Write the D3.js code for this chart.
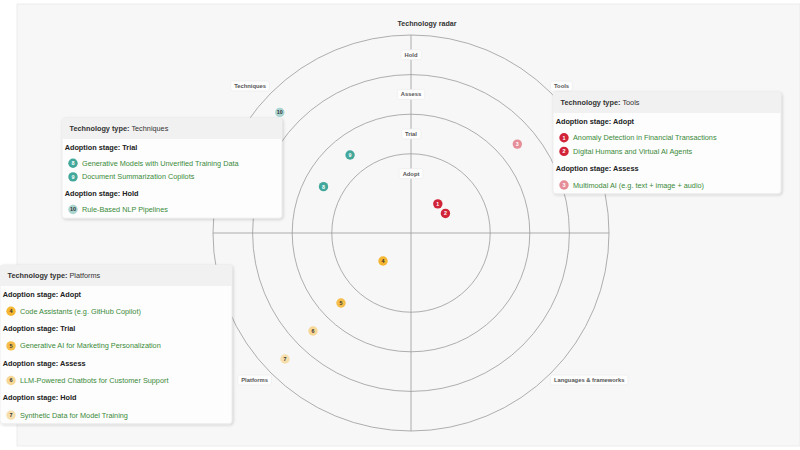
<!DOCTYPE html>
<html>
<head>
<meta charset="utf-8">
<script src="https://cdn.jsdelivr.net/npm/d3@7"></script>
<style>
  body { margin: 0; background: #fff; }
  svg { display: block; font-family: "Liberation Sans", Arial, Helvetica, sans-serif; }
</style>
</head>
<body>
<div id="chart"></div>
<script>
// ---- data ----
var quadrants = ["Tools", "Languages & frameworks", "Platforms", "Techniques"]; // clockwise from top-right
var quadrantColors = ["#d22438", "#7b6fb5", "#f5b632", "#2a9d8f"];
var stages = ["Adopt", "Trial", "Assess", "Hold"];
var stageOpacity = [1, 0.88, 0.5, 0.38];

var techNames = [
  "Anomaly Detection in Financial Transactions",
  "Digital Humans and Virtual AI Agents",
  "Multimodal AI (e.g. text + image + audio)",
  "Code Assistants (e.g. GitHub Copilot)",
  "Generative AI for Marketing Personalization",
  "LLM-Powered Chatbots for Customer Support",
  "Synthetic Data for Model Training",
  "Generative Models with Unverified Training Data",
  "Document Summarization Copilots",
  "Rule-Based NLP Pipelines"
];
var techQuadrant = ["Tools", "Tools", "Tools", "Platforms", "Platforms", "Platforms", "Platforms", "Techniques", "Techniques", "Techniques"];
var techStage = ["Adopt", "Adopt", "Assess", "Adopt", "Trial", "Assess", "Hold", "Trial", "Trial", "Hold"];
var techAngle = [42.6, 60.4, 50.1, 225, 225, 225, 225, 297.9, 322, 312.6]; // degrees, clockwise from north

// ring boundaries and point radius, in radial units
var ringEdges = [2, 3, 4, 5];
var stageMid = [1, 2.5, 3.5, 4.5];

var technologies = techNames.map(function(n, i) {
  return { id: i + 1, name: n, quadrant: techQuadrant[i], stage: techStage[i], angle: techAngle[i] };
});

// ---- layout ----
var W = 800, H = 450;
var cx = 411, cy = 233;

var svg = d3.select("#chart").append("svg").attr("width", W).attr("height", H);

var defs = svg.append("defs");
var shadow = defs.append("filter").attr("id", "shadow").attr("x", "-10%").attr("y", "-10%").attr("width", "130%").attr("height", "130%");
shadow.append("feDropShadow").attr("dx", 1).attr("dy", 1).attr("stdDeviation", 1.5).attr("flood-color", "#000").attr("flood-opacity", 0.18);

// plot background
svg.append("rect").attr("x", 17).attr("y", 4).attr("width", W - 17).attr("height", 442)
  .attr("fill", "#f7f7f7").attr("stroke", "#e9e9e9").attr("stroke-width", 0.8);

svg.append("text").attr("x", cx + 16).attr("y", 25.5).attr("text-anchor", "middle")
  .style("font-size", "7.1px").style("font-weight", "bold").style("fill", "#333")
  .text("Technology radar");

var r = d3.scaleLinear().domain([0, 5]).range([0, 198]);
var a = d3.scaleLinear().domain([0, 360]).range([0, 2 * Math.PI]);

function px(ang, rad) { return cx + r(rad) * Math.sin(a(ang)); }
function py(ang, rad) { return cy - r(rad) * Math.cos(a(ang)); }

var g = svg.append("g");

// rings
g.selectAll(".ring").data(ringEdges).enter().append("circle")
  .attr("cx", cx).attr("cy", cy).attr("r", function(d) { return r(d); })
  .attr("fill", "none").attr("stroke", "#9a9a9a").attr("stroke-width", 0.8);

// axes
g.selectAll(".axisLine").data([0, 90, 180, 270]).enter().append("line")
  .attr("x1", cx).attr("y1", cy)
  .attr("x2", function(d) { return px(d, 5); })
  .attr("y2", function(d) { return py(d, 5); })
  .attr("stroke", "#9a9a9a").attr("stroke-width", 0.8);

function boxedLabel(sel, x, y, txt, anchor) {
  var grp = sel.append("g");
  var t = grp.append("text").attr("x", x).attr("y", y).attr("dy", "0.35em")
    .attr("text-anchor", anchor || "middle")
    .style("font-size", "5.8px").style("font-weight", "bold").style("fill", "#555").text(txt);
  var bb = t.node().getBBox();
  grp.insert("rect", "text").attr("x", bb.x - 3.5).attr("y", bb.y - 2)
    .attr("width", bb.width + 7).attr("height", bb.height + 4).attr("rx", 2)
    .attr("fill", "#fdfdfd").attr("stroke", "#ebebeb").attr("stroke-width", 0.6);
}

// stage labels along the vertical axis
stages.forEach(function(s, i) { boxedLabel(g, cx, py(0, ringEdges[i] - 0.5), s); });

// quadrant labels
var qPos = [[554, 86, "start"], [554, 380, "start"], [268, 380, "end"], [266, 86, "end"]];
quadrants.forEach(function(q, i) { boxedLabel(g, qPos[i][0], qPos[i][1], q, qPos[i][2]); });

function pointColor(d) {
  var qi = quadrants.indexOf(d.quadrant), si = stages.indexOf(d.stage);
  var c = d3.rgb(quadrantColors[qi]), bg = d3.rgb("#f8f8f8"), o = stageOpacity[si];
  return d3.rgb(c.r * o + bg.r * (1 - o), c.g * o + bg.g * (1 - o), c.b * o + bg.b * (1 - o));
}
function textColor(d) {
  var c = pointColor(d);
  var lum = (0.2126 * c.r + 0.7152 * c.g + 0.0722 * c.b) / 255;
  return lum > 0.66 ? "#333" : "#fff";
}

// points
var pts = g.selectAll(".tech").data(technologies).enter().append("g")
  .attr("transform", function(d) {
    var ri = stageMid[stages.indexOf(d.stage)];
    return "translate(" + px(d.angle, ri) + "," + py(d.angle, ri) + ")";
  });
pts.append("circle").attr("r", 4.7).attr("fill", function(d) { return pointColor(d).formatHex(); });
pts.append("text").attr("text-anchor", "middle").attr("dy", "0.35em")
  .style("font-size", "5.3px").style("font-weight", "bold")
  .style("fill", textColor).text(function(d) { return d.id; });

// ---- tooltips ----
var tipBoxes = [
  { quadrant: "Techniques", x: 62, y: 118, w: 220, gap: 16.3 },
  { quadrant: "Tools", x: 553, y: 92, w: 228, gap: 16.8 },
  { quadrant: "Platforms", x: 0, y: 265, w: 232, gap: 17.3 }
];

tipBoxes.forEach(function(b) {
  var tg = svg.append("g").attr("transform", "translate(" + b.x + "," + b.y + ")");
  var bgRect = tg.append("rect").attr("width", b.w).attr("rx", 3)
    .attr("fill", "#fdfdfd").attr("stroke", "#e4e4e4").attr("stroke-width", 0.6)
    .style("filter", "url(#shadow)");
  tg.append("path").attr("d", "M0,21 V3 Q0,0 3,0 H" + (b.w - 3) + " Q" + b.w + ",0 " + b.w + ",3 V21 Z")
    .attr("fill", "#f1f1f1");
  var ht = tg.append("text").attr("x", 7.5).attr("y", 10.5).attr("dy", "0.35em")
    .style("font-size", "7.3px").style("fill", "#333");
  ht.append("tspan").style("font-weight", "bold").text("Technology type: ");
  ht.append("tspan").text(b.quadrant);

  var y = 29;
  var first = true;
  stages.forEach(function(s) {
    var items = technologies.filter(function(d) { return d.quadrant === b.quadrant && d.stage === s; });
    if (!items.length) return;
    if (!first) y += b.gap;
    first = false;
    tg.append("text").attr("x", 2.7).attr("y", y).attr("dy", "0.35em")
      .style("font-size", "7.3px").style("font-weight", "bold").style("fill", "#222")
      .text("Adoption stage: " + s);
    items.forEach(function(d, k) {
      y += k === 0 ? b.gap : 13.6;
      tg.append("circle").attr("cx", 11).attr("cy", y).attr("r", 4.7)
        .attr("fill", pointColor(d).formatHex());
      tg.append("text").attr("x", 11).attr("y", y).attr("dy", "0.35em").attr("text-anchor", "middle")
        .style("font-size", "5.5px").style("font-weight", "bold").style("fill", textColor(d))
        .text(d.id);
      tg.append("text").attr("x", 20).attr("y", y).attr("dy", "0.35em")
        .style("font-size", "7.3px").style("fill", "#3a8a3a").text(d.name);
    });
  });
  bgRect.attr("height", y + 8.7);
});
</script>
</body>
</html>
